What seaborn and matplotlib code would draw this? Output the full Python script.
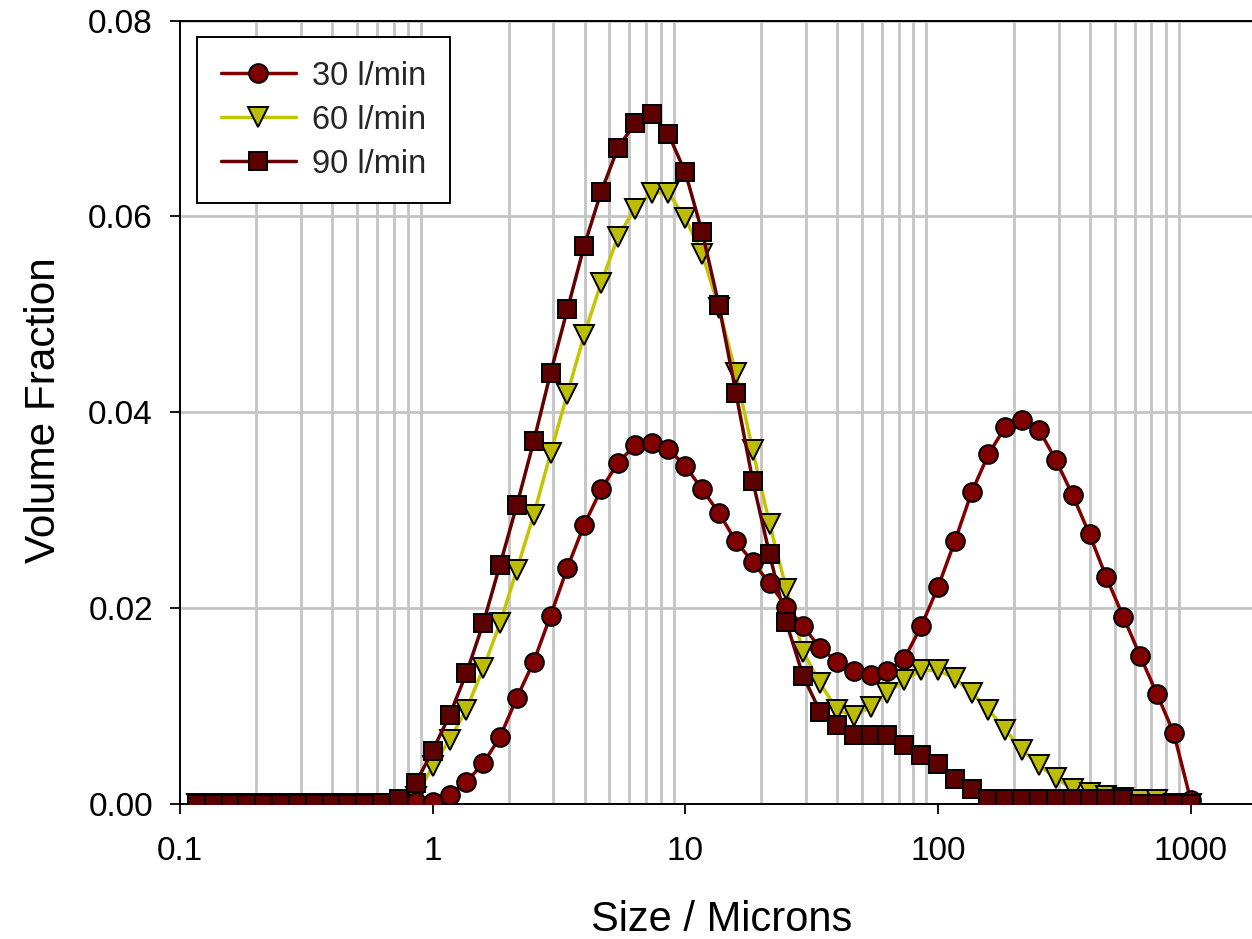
import pandas as pd
import matplotlib
matplotlib.use("Agg")
import matplotlib.pyplot as plt
from matplotlib.ticker import FixedLocator, FixedFormatter, LogLocator, NullFormatter, FormatStrFormatter
import seaborn as sns

# Particle size bins (microns)
sizes = [0.1166, 0.1359, 0.1585, 0.1848, 0.2154, 0.2512, 0.2929, 0.3415, 0.3981, 0.4642,
         0.5412, 0.6310, 0.7356, 0.8577, 1.0, 1.166, 1.359, 1.585, 1.848, 2.154,
         2.512, 2.929, 3.415, 3.981, 4.642, 5.412, 6.310, 7.356, 8.577, 10.0,
         11.66, 13.59, 15.85, 18.48, 21.54, 25.12, 29.29, 34.15, 39.81, 46.42,
         54.12, 63.10, 73.56, 85.77, 100.0, 116.6, 135.9, 158.5, 184.8, 215.4,
         251.2, 292.9, 341.5, 398.1, 464.2, 541.2, 631.0, 735.6, 857.7, 1000.0]

vol_30 = [0, 0, 0, 0, 0, 0, 0, 0, 0, 0,
          0, 0, 0, 0.0002, 0.0002, 0.0009, 0.0022, 0.0041, 0.0068, 0.0108,
          0.0145, 0.0192, 0.0241, 0.0285, 0.0321, 0.0348, 0.0366, 0.0368, 0.0362, 0.0345,
          0.0321, 0.0297, 0.0268, 0.0247, 0.0225, 0.0201, 0.0181, 0.0159, 0.0145, 0.0135,
          0.0131, 0.0135, 0.0148, 0.0181, 0.0221, 0.0268, 0.0318, 0.0357, 0.0385, 0.0392,
          0.0382, 0.0351, 0.0315, 0.0275, 0.0231, 0.0191, 0.0151, 0.0112, 0.0072, 0.0004]

vol_60 = [0, 0, 0, 0, 0, 0, 0, 0, 0, 0,
          0, 0, 0, 0.0007, 0.0038, 0.0065, 0.0096, 0.0138, 0.0184, 0.0239,
          0.0295, 0.0358, 0.0419, 0.0479, 0.0532, 0.0579, 0.0608, 0.0624, 0.0624, 0.0598,
          0.0562, 0.0506, 0.0440, 0.0361, 0.0286, 0.0219, 0.0155, 0.0123, 0.0096, 0.0089,
          0.0099, 0.0113, 0.0126, 0.0136, 0.0136, 0.0128, 0.0113, 0.0096, 0.0075, 0.0055,
          0.0039, 0.0026, 0.0015, 0.0011, 0.0008, 0.0006, 0.0004, 0.0004, 0, 0]

vol_90 = [0, 0, 0, 0, 0, 0, 0, 0, 0, 0,
          0, 0.0001, 0.0005, 0.0021, 0.0054, 0.0090, 0.0133, 0.0184, 0.0244, 0.0305,
          0.0370, 0.0440, 0.0505, 0.0570, 0.0625, 0.0670, 0.0695, 0.0705, 0.0684, 0.0645,
          0.0584, 0.0509, 0.0420, 0.0330, 0.0255, 0.0185, 0.0130, 0.0094, 0.0080, 0.0070,
          0.0070, 0.0070, 0.0060, 0.0050, 0.0040, 0.0025, 0.0015, 0.0005, 0.0005, 0.0005,
          0.0005, 0.0005, 0.0005, 0.0005, 0.0005, 0.0005, 0, 0, 0, 0]

flow_labels = ["30 l/min", "60 l/min", "90 l/min"]
x_ticks = [0.1, 1, 10, 100, 1000]
x_tick_labels = ["0.1", "1", "10", "100", "1000"]
y_ticks = [0.0, 0.02, 0.04, 0.06, 0.08]

# look of each series: line colour, marker, face colour, size, draw order
series_style = {
    "30 l/min": dict(color="#800000", marker="o", markerfacecolor="#800000", markersize=13.5, zorder=4),
    "60 l/min": dict(color="#c4c400", marker="v", markerfacecolor="#bcbc00", markersize=14, zorder=3),
    "90 l/min": dict(color="#650000", marker="s", markerfacecolor="#5c0000", markersize=12.5, zorder=5),
}

sns.set_theme(style="ticks")
plt.rcParams["font.family"] = ["Liberation Sans", "DejaVu Sans"]

fig = plt.figure(figsize=(12.52, 9.39), dpi=100)
ax = fig.add_axes([180 / 1252, (939 - 803.5) / 939, 1 - 180 / 1252, (803.5 - 20.7) / 939])
ax.set_xscale("log")

for label, vols in zip(flow_labels, [vol_30, vol_60, vol_90]):
    df = pd.DataFrame({"size": sizes, "vol": vols})
    sns.lineplot(data=df, x="size", y="vol", ax=ax, label=label, linewidth=2.5,
                 markeredgecolor="black", markeredgewidth=1.4, **series_style[label])

ax.set_xlim(0.1, 10 ** ((1252 - 179.8) / 252.7 - 1))
ax.set_ylim(0, 0.08)

ax.xaxis.set_major_locator(FixedLocator(x_ticks))
ax.xaxis.set_major_formatter(FixedFormatter(x_tick_labels))
ax.xaxis.set_minor_locator(LogLocator(base=10, subs=range(2, 10), numticks=30))
ax.xaxis.set_minor_formatter(NullFormatter())
ax.yaxis.set_major_locator(FixedLocator(y_ticks))
ax.yaxis.set_major_formatter(FormatStrFormatter("%.2f"))

ax.tick_params(axis="both", which="major", direction="out", length=7.5, width=1.3,
               color="black", labelsize=24, labelcolor="black")
ax.tick_params(axis="x", which="major", pad=16)
ax.tick_params(axis="y", which="major", pad=12)
ax.tick_params(axis="x", which="minor", length=0)

ax.set_axisbelow(True)
ax.grid(False)
ax.grid(which="minor", axis="x", color="#c4c4c4", linewidth=2)
ax.grid(which="major", axis="y", color="#c4c4c4", linewidth=2)

for side in ["left", "bottom", "top"]:
    ax.spines[side].set_color("black")
    ax.spines[side].set_linewidth(1.4)
ax.spines["right"].set_visible(False)

ax.set_xlabel("Size / Microns", fontsize=30, color="black")
ax.set_ylabel("Volume Fraction", fontsize=30.5, color="black")
ax.xaxis.set_label_coords(0.5056, -0.123)
ax.yaxis.set_label_coords(-0.108, 0.503)

leg = ax.legend(loc="upper left", bbox_to_anchor=(0.0159, 0.979), borderaxespad=0,
                fontsize=23.5, frameon=True, fancybox=False, framealpha=1, edgecolor="black",
                handlelength=2.3, handletextpad=0.5, labelspacing=0.4, borderpad=0.72,
                numpoints=1)
leg.get_frame().set_linewidth(1.4)

fig.savefig("out.png", dpi=100)
